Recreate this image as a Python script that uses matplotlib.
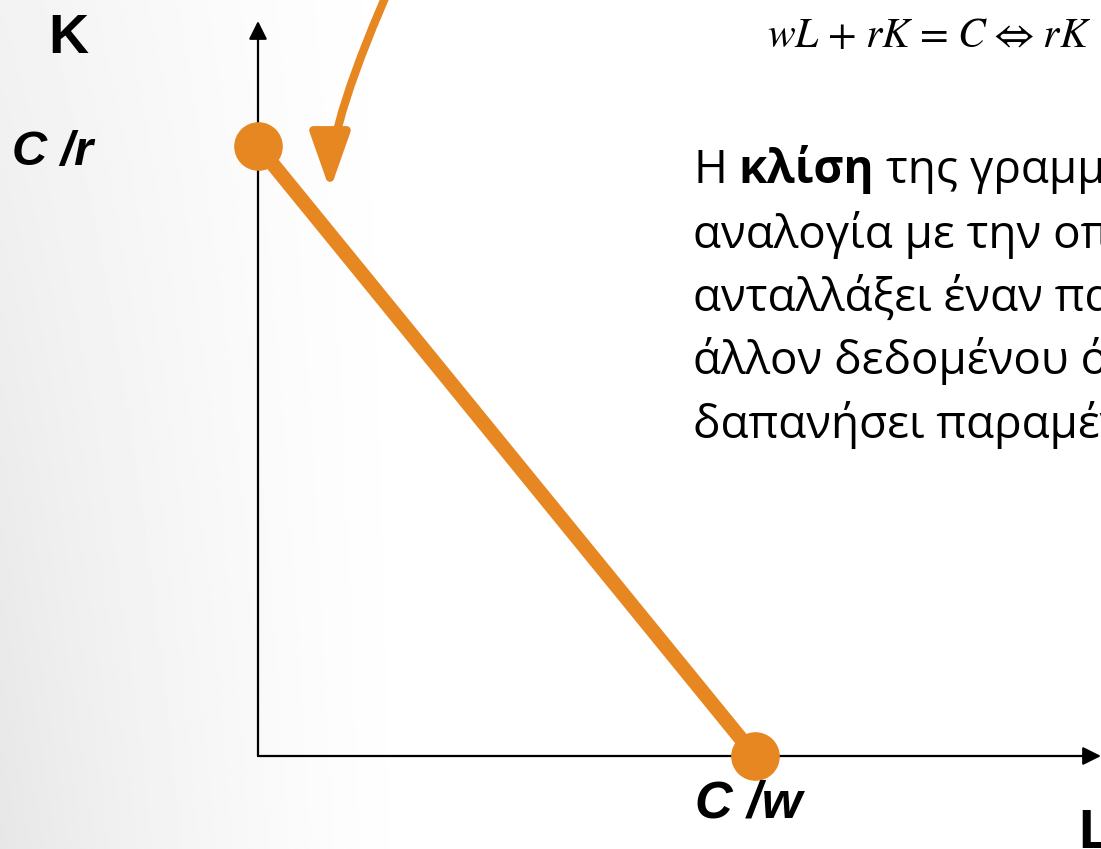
import matplotlib
matplotlib.use('Agg')
import matplotlib.pyplot as plt
import numpy as np

# budget (isocost) line: intercepts in data units
cost_over_w = 8.0    # L intercept  C/w
cost_over_r = 10.0   # K intercept  C/r
line_L = [0, cost_over_w]
line_K = [cost_over_r, 0]

axis_labels = ['K', 'L']
point_labels = ['C /r', 'C /w']
gap = r'\hspace{0.12}'
equation = ('$wL' + gap + '+' + gap + 'rK' + gap + '=' + gap + 'C'
            + gap + r'\Leftrightarrow' + gap + 'rK$')
text_first = ['Η ', 'κλίση', ' της γραμμής']
text_lines = ['αναλογία με την οποία',
              'ανταλλάξει έναν παραγωγικό',
              'άλλον δεδομένου ότι',
              'δαπανήσει παραμένει']

orange = '#E78722'
W, H = 1101, 849
plt.rcParams['mathtext.fontset'] = 'stix'


def px(x, y):
    return x / W, 1 - y / H


fig = plt.figure(figsize=(W / 100, H / 100), dpi=100)

# light grey gradient on the left side
bg = fig.add_axes([0, 0, 1, 1])
xx, yy = np.meshgrid(np.linspace(0, 1, 400), np.linspace(0, 1, 300))
shade = 1 - (0.05 + 0.045 * yy) * np.clip(1 - xx / 0.40, 0, 1) ** 1.5
bg.imshow(shade, cmap='gray', vmin=0, vmax=1, extent=[0, 1, 0, 1],
          aspect='auto', origin='upper')
bg.axis('off')

ax = fig.add_axes([0, 0, 1, 1])
ax.patch.set_alpha(0)
sx = (755 - 258) / cost_over_w
sy = (756 - 146) / cost_over_r
ax.set_xlim(-258 / sx, (W - 258) / sx)
ax.set_ylim(-(H - 756) / sy, 756 / sy)
ax.axis('off')

# axes with arrow heads
ax.annotate('', xy=(0, (756 - 21) / sy), xytext=(0, 0),
            arrowprops=dict(arrowstyle='-|>,head_length=0.5,head_width=0.25',
                            mutation_scale=22, lw=1.6, color='black',
                            shrinkA=0, shrinkB=0))
ax.annotate('', xy=((W - 258) / sx, 0), xytext=(0, 0),
            arrowprops=dict(arrowstyle='-|>,head_length=0.5,head_width=0.25',
                            mutation_scale=22, lw=1.6, color='black',
                            shrinkA=0, shrinkB=0))

# budget line
ax.plot(line_L, line_K, color=orange, lw=10.5, solid_capstyle='butt', zorder=3)
ax.plot(line_L, line_K, 'o', color=orange, markersize=34, zorder=4)

# curved arrow pointing at the slope
ax.annotate('', xy=((330 - 258) / sx, (756 - 190) / sy),
            xytext=((395 - 258) / sx, (756 + 25) / sy),
            arrowprops=dict(arrowstyle='-|>,head_length=1.7,head_width=0.6',
                            connectionstyle='angle3,angleA=-114,angleB=90',
                            mutation_scale=20, lw=6, color=orange,
                            shrinkA=0, shrinkB=0))

# labels
fig.text(*px(68, 53), axis_labels[0], fontsize=40, fontweight='bold',
         family='Liberation Sans', ha='center', va='baseline')
fig.text(*px(1078, 848), axis_labels[1], fontsize=40, fontweight='bold',
         family='Liberation Sans', ha='left', va='baseline')
fig.text(*px(12, 165), point_labels[0], fontsize=35, fontweight='bold',
         style='italic', family='Liberation Sans', ha='left', va='baseline')
fig.text(*px(695, 818), point_labels[1], fontsize=37.5, fontweight='bold',
         style='italic', family='Liberation Sans', ha='left', va='baseline')

fig.text(*px(767, 47), equation, fontsize=30, ha='left', va='baseline')

# explanatory paragraph (runs off the right edge like the slide)
renderer = fig.canvas.get_renderer()
font = dict(fontsize=33, family='Open Sans', va='baseline', ha='left')


def width_of(s, weight):
    t = fig.text(0, 0, s, fontweight=weight, **font)
    w = t.get_window_extent(renderer).width
    t.remove()
    return w


space = width_of('a a', 'normal') - width_of('aa', 'normal')
x = 693
for piece, weight in zip(text_first, ['normal', 'bold', 'normal']):
    s = piece.strip()
    if piece.startswith(' '):
        x += space
    fig.text(*px(x, 183), s, fontweight=weight, **font)
    x += width_of(s, weight)
    if piece.endswith(' '):
        x += space

for i, line in enumerate(text_lines):
    fig.text(*px(693, 248 + i * 63.2), line, **font)

fig.savefig('out.png', dpi=100)
